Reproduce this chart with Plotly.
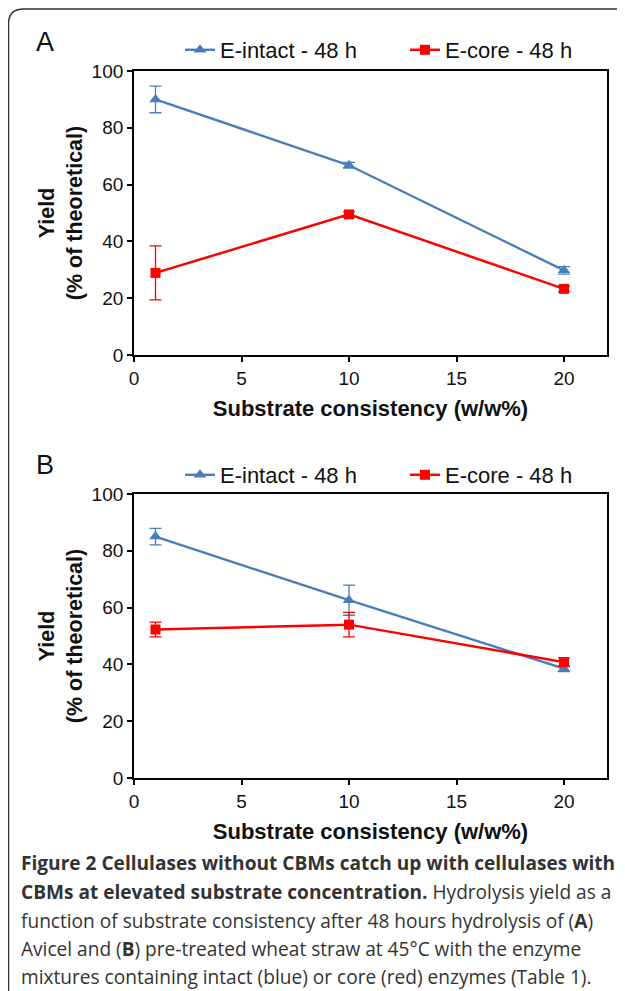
import plotly.graph_objects as go

# page body adds an 8px offset; lay everything out in reference pixels
OFF = 8
W, H = 625 - OFF, 991 - OFF

# ---------------- data ----------------
x_cons = [1, 10, 20]
a_intact = [90.0, 66.8, 29.8]
a_intact_err = [4.7, 1.0, 1.3]
a_core = [28.9, 49.5, 23.3]
a_core_err = [9.5, 1.0, 1.0]

b_intact = [85.0, 62.6, 38.5]
b_intact_err = [2.9, 5.3, 1.0]
b_core = [52.3, 54.0, 40.8]
b_core_err = [2.6, 4.3, 1.5]

series_names = ["E-intact - 48 h", "E-core - 48 h"]
x_ticks = [0, 5, 10, 15, 20]
y_ticks = [0, 20, 40, 60, 80, 100]

BLUE = "#4A7EBB"
RED = "#FF0000"
FONT = "Liberation Sans, Arial, sans-serif"


def px(x):
    return (x - OFF) / W


def py(y):
    return 1 - (y - OFF) / H


fig = go.Figure()

panels = [
    ("x", "y", a_intact, a_intact_err, a_core, a_core_err, "legend", "legend2"),
    ("x2", "y2", b_intact, b_intact_err, b_core, b_core_err, "legend3", "legend4"),
]
for xa, ya, yi, ei, yc, ec, lg1, lg2 in panels:
    fig.add_trace(go.Scatter(
        x=x_cons, y=yi, name=series_names[0], mode="lines+markers",
        xaxis=xa, yaxis=ya, legend=lg1, showlegend=True,
        line=dict(color=BLUE, width=2.4),
        marker=dict(symbol="triangle-up", size=11, color=BLUE),
        error_y=dict(type="data", array=ei, visible=True, color=BLUE,
                     thickness=1.3, width=6),
    ))
    fig.add_trace(go.Scatter(
        x=x_cons, y=yc, name=series_names[1], mode="lines+markers",
        xaxis=xa, yaxis=ya, legend=lg2, showlegend=True,
        line=dict(color=RED, width=2.5),
        marker=dict(symbol="square", size=10, color=RED),
        error_y=dict(type="data", array=ec, visible=True, color=RED,
                     thickness=1.3, width=6),
    ))

xdom = [px(134), px(607)]
ydomA = [py(355), py(71)]
ydomB = [py(778), py(494)]

axis_common = dict(
    showline=True, linecolor="black", linewidth=1.8, mirror=True,
    ticks="outside", ticklen=5, tickwidth=1.5, tickcolor="black",
    showgrid=False, zeroline=False, automargin=False,
    tickfont=dict(family=FONT, size=19, color="#111"),
)
xtitle = dict(text="Substrate consistency (w/w%)",
              font=dict(family=FONT, size=22, color="#111", weight="bold"),
              standoff=13)
ytitle = dict(text="Yield<br>(% of theoretical)",
              font=dict(family=FONT, size=21.5, color="#111", weight="bold"),
              standoff=3)


def leg(xp, yp):
    return dict(orientation="h", x=px(xp), y=py(yp), xanchor="left",
                yanchor="middle", font=dict(family=FONT, size=22, color="#111"),
                bgcolor="rgba(0,0,0,0)", borderwidth=0)


fig.update_layout(
    width=W, height=H,
    showlegend=True,
    margin=dict(l=0, r=0, t=0, b=0, autoexpand=False),
    paper_bgcolor="white", plot_bgcolor="white",
    xaxis=dict(domain=xdom, anchor="y", range=[0, 22], tickvals=x_ticks,
               title=xtitle, **axis_common),
    yaxis=dict(domain=ydomA, anchor="x", range=[0, 100], tickvals=y_ticks,
               title=ytitle, **axis_common),
    xaxis2=dict(domain=xdom, anchor="y2", range=[0, 22], tickvals=x_ticks,
                title=xtitle, **axis_common),
    yaxis2=dict(domain=ydomB, anchor="x2", range=[0, 100], tickvals=y_ticks,
                title=ytitle, **axis_common),
    legend=leg(180, 50),
    legend2=leg(405, 50),
    legend3=leg(180, 475),
    legend4=leg(405, 475),
)

# panel labels
for lab, yy in [("A", 42), ("B", 465)]:
    fig.add_annotation(text=lab, x=px(34), y=py(yy), xref="paper", yref="paper",
                       xanchor="left", yanchor="middle", showarrow=False,
                       font=dict(family=FONT, size=27, color="#111"))

# caption
CAP = "Open Sans, sans-serif"
cap_lines = [
    "<b>Figure 2 Cellulases without CBMs catch up with cellulases with</b>",
    "<b>CBMs at elevated substrate concentration.</b> Hydrolysis yield as a",
    "function of substrate consistency after 48 hours hydrolysis of (<b>A</b>)",
    "Avicel and (<b>B</b>) pre-treated wheat straw at 45°C with the enzyme",
    "mixtures containing intact (blue) or core (red) enzymes (Table 1).",
]
cap_y = [863, 892, 921, 949, 977]
for t, yy in zip(cap_lines, cap_y):
    fig.add_annotation(text=t, x=px(19), y=py(yy), xref="paper", yref="paper",
                       xanchor="left", yanchor="middle", showarrow=False,
                       align="left", font=dict(family=CAP, size=19.1, color="#333"))

# rounded frame (left and top edges visible)
r = 15
x0, y0 = 8.5, 9
path = (f"M {px(x0)},{py(1010)} L {px(x0)},{py(y0 + r)} "
        f"Q {px(x0)},{py(y0)} {px(x0 + r)},{py(y0)} L {px(660)},{py(y0)}")
fig.add_shape(type="path", path=path, xref="paper", yref="paper",
              line=dict(color="#333", width=1.5))

fig.write_html("out.html")
